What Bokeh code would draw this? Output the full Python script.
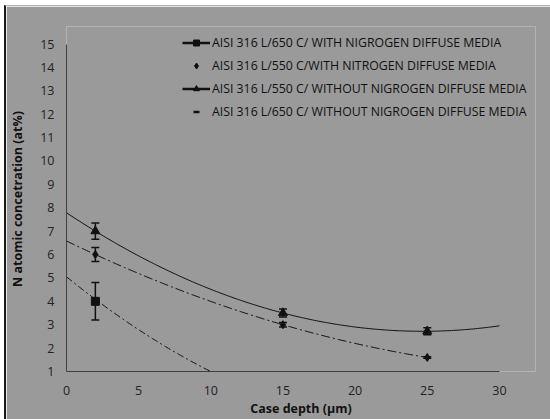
import numpy as np
from bokeh.plotting import figure
from bokeh.models import ColumnDataSource, Whisker, TeeHead, Legend, LegendItem, FixedTicker, Title
from bokeh.embed import file_html
from bokeh.resources import INLINE

# ---- data ----
depth = [2, 15, 25]
s3_vals = [7.0, 3.5, 2.72]      # 550 C without nitrogen diffuse media (triangle)
s3_err = [0.35, 0.17, 0.15]
s2_vals = [6.0, 3.0, 1.6]       # 550 C with nitrogen diffuse media (diamond)
s2_err = [0.30, 0.10, 0.03]
s1_depth = [2]
s1_vals = [4.0]                 # 650 C with nitrogen diffuse media (square)
s1_err = [0.8]
s1_trend_x = [0, 2, 4, 6, 8, 10]
s1_trend_y = [5.05, 4.08, 3.2, 2.4, 1.65, 1.0]

labels = [
    "AISI 316 L/650 C/ WITH NIGROGEN DIFFUSE MEDIA",
    "AISI 316 L/550 C/WITH NITROGEN DIFFUSE MEDIA",
    "AISI 316 L/550 C/ WITHOUT NIGROGEN DIFFUSE MEDIA",
    "AISI 316 L/650 C/ WITHOUT NIGROGEN DIFFUSE MEDIA",
]
x_ticks = [0, 5, 10, 15, 20, 25, 30]
y_ticks = list(range(1, 16))
x_title = "Case depth (µm)"
y_title = "N atomic concetration (at%)"

FONT = "Open Sans"
BG = "#9a9a9a"
INK = "#111111"

p = figure(width=544, height=413, x_range=(0, 32.5), y_range=(1, 15.75),
           output_backend="svg", toolbar_location=None,
           min_border_left=60, min_border_right=17, min_border_top=20, min_border_bottom=49)
p.margin = (5, 0, 0, 4)
p.styles = {"border-left": "2px solid #1a1a1a", "border-top": "1px solid #b0b0b0",
            "box-sizing": "content-box"}
p.background_fill_color = BG
p.border_fill_color = BG
p.outline_line_color = None
p.grid.visible = False

for ax in (p.xaxis[0], p.yaxis[0]):
    ax.axis_line_color = "#404040"
    ax.axis_line_width = 1
    ax.major_tick_line_color = None
    ax.minor_tick_line_color = None
    ax.major_tick_out = 0
    ax.major_tick_in = 0
    ax.minor_tick_out = 0
    ax.minor_tick_in = 0
    ax.major_label_text_font = FONT
    ax.major_label_text_font_size = "12.5px"
    ax.major_label_text_color = "#222222"
    ax.axis_label_text_font = FONT
    ax.axis_label_text_font_size = "12.5px"
    ax.axis_label_text_font_style = "bold"
    ax.axis_label_text_color = "#111111"

p.xaxis.bounds = (0, 30)
p.yaxis.bounds = (1, 15)
p.xaxis.ticker = FixedTicker(ticks=x_ticks)
p.yaxis.ticker = FixedTicker(ticks=y_ticks)
p.xaxis.major_label_standoff = 14
p.yaxis.major_label_standoff = 12
p.yaxis.axis_label = y_title
p.yaxis.axis_label_standoff = 11

xt = Title(text=x_title, align="center", offset=-21, standoff=0,
           text_font=FONT, text_font_size="12.5px", text_font_style="bold", text_color="#111111")
p.add_layout(xt, "below")

# trend lines (2nd order polynomial fits)
c3 = np.polyfit(depth, s3_vals, 2)
x3 = np.linspace(0, 30, 200)
p.line(x3, np.polyval(c3, x3), line_color=INK, line_width=1)

c2 = np.polyfit(depth, s2_vals, 2)
x2 = np.linspace(0, 25, 200)
p.line(x2, np.polyval(c2, x2), line_color=INK, line_width=1, line_dash="9 3 2 3")

c1 = np.polyfit(s1_trend_x, s1_trend_y, 2)
x1 = np.linspace(0, 10, 100)
p.line(x1, np.polyval(c1, x1), line_color=INK, line_width=1, line_dash="7 3 2 3")

# error bars
def add_err(xs, ys, es):
    src = ColumnDataSource(dict(x=xs, lo=[y - e for y, e in zip(ys, es)], hi=[y + e for y, e in zip(ys, es)]))
    w = Whisker(base="x", lower="lo", upper="hi", source=src, line_color=INK, line_width=1.5,
                lower_head=TeeHead(size=8, line_color=INK, line_width=1.5),
                upper_head=TeeHead(size=8, line_color=INK, line_width=1.5))
    p.add_layout(w)

add_err(depth, s3_vals, s3_err)
add_err(depth, s2_vals, s2_err)
add_err(s1_depth, s1_vals, s1_err)

# markers
p.scatter(depth, s3_vals, marker="triangle", size=9, fill_color=INK, line_color=INK)
p.scatter(depth, s2_vals, marker="diamond", size=8, fill_color=INK, line_color=INK)
p.scatter(s1_depth, s1_vals, marker="square", size=8, fill_color=INK, line_color=INK)

# legend glyphs (off-range renderers carrying the legend style)
def off():
    return ColumnDataSource(dict(x=[-100, -99], y=[-100, -100]))

l1 = p.line(x="x", y="y", source=off(), line_color=INK, line_width=2.5)
m1 = p.scatter(x="x", y="y", source=off(), marker="square", fill_color=INK, line_color=INK)
m2 = p.scatter(x="x", y="y", source=off(), marker="diamond", fill_color=INK, line_color=INK)
l3 = p.line(x="x", y="y", source=off(), line_color=INK, line_width=2.5)
m3 = p.scatter(x="x", y="y", source=off(), marker="triangle", fill_color=INK, line_color=INK)
m4 = p.scatter(x="x", y="y", source=off(), marker="dash", line_color=INK, line_width=2.5)

legend = Legend(items=[
    LegendItem(label=labels[0], renderers=[l1, m1], index=0),
    LegendItem(label=labels[1], renderers=[m2], index=0),
    LegendItem(label=labels[2], renderers=[l3, m3], index=0),
    LegendItem(label=labels[3], renderers=[m4], index=0),
], location=(116, 251))
legend.background_fill_alpha = 0
legend.border_line_alpha = 0
legend.padding = 0
legend.margin = 0
legend.spacing = 6
legend.glyph_width = 28
legend.glyph_height = 15
legend.label_height = 15
legend.label_standoff = 2
legend.label_text_font = FONT
legend.label_text_font_size = "12.3px"
legend.label_text_color = "#111111"
p.add_layout(legend)

open("out.html", "w").write(file_html(p, INLINE))
